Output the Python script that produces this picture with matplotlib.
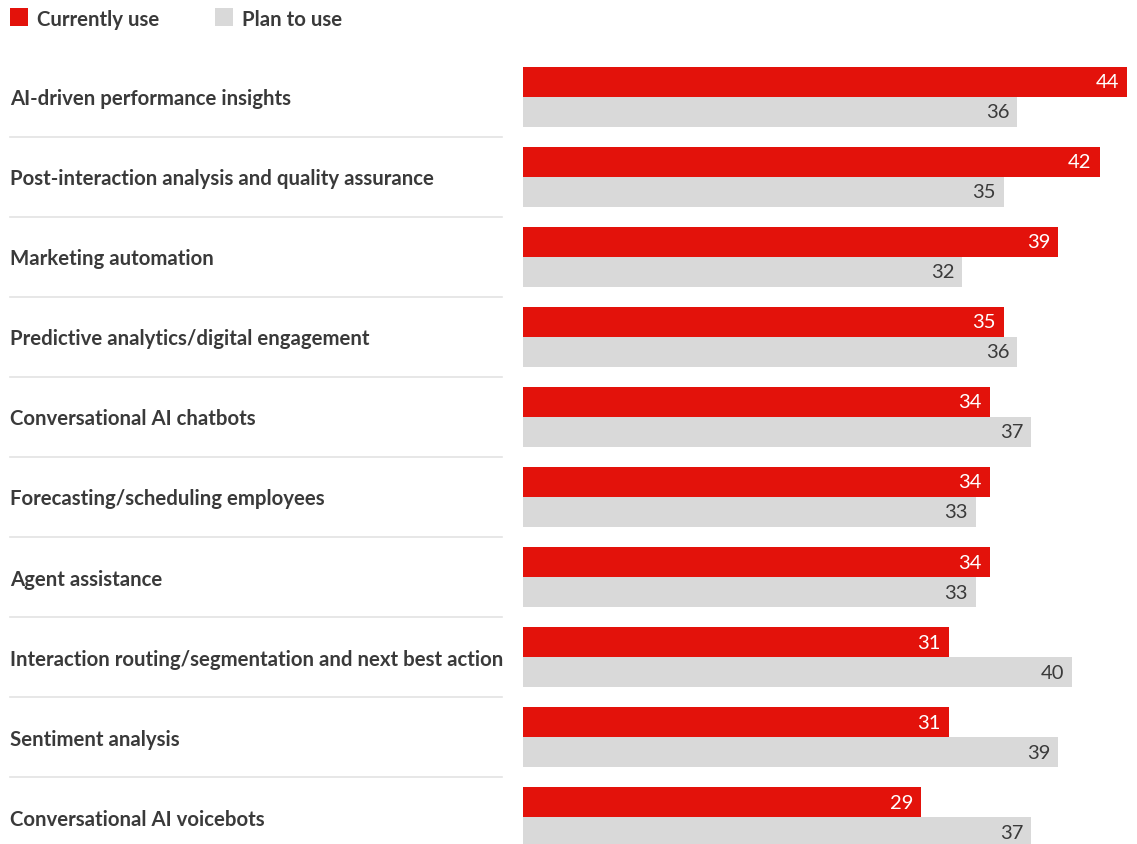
import numpy as np
import matplotlib
matplotlib.use("Agg")
import matplotlib.pyplot as plt
from matplotlib.transforms import blended_transform_factory
from matplotlib.patches import Rectangle

categories = [
    "AI-driven performance insights",
    "Post-interaction analysis and quality assurance",
    "Marketing automation",
    "Predictive analytics/digital engagement",
    "Conversational AI chatbots",
    "Forecasting/scheduling employees",
    "Agent assistance",
    "Interaction routing/segmentation and next best action",
    "Sentiment analysis",
    "Conversational AI voicebots",
]
currently_use = [44, 42, 39, 35, 34, 34, 34, 31, 31, 29]
plan_to_use = [36, 35, 32, 36, 37, 33, 33, 40, 39, 37]
series_names = ["Currently use", "Plan to use"]

red = "#e3120b"
grey = "#d9d9d9"
text_col = "#3a3a3a"
sep_col = "#e3e3e3"

plt.rcParams['font.family'] = ['Lato', 'DejaVu Sans']

W, H = 1137, 845
fig = plt.figure(figsize=(W / 100, H / 100), dpi=100)

px_per_unit = 13.73
row_step = 80.1
first_center = 97.5
x0 = 523

ax = fig.add_axes([x0 / W, 0, (W - x0) / W, 1])
ax.set_xlim(0, (W - x0) / px_per_unit)
ax.set_ylim((H - first_center) / row_step, -first_center / row_step)
ax.axis("off")

y = np.arange(len(categories))
bh = 30 / row_step
ax.barh(y - bh / 2, currently_use, height=bh, color=red, linewidth=0)
ax.barh(y + bh / 2, plan_to_use, height=bh, color=grey, linewidth=0)

# value labels inside bar ends
pad = 8 / px_per_unit
for i in range(len(categories)):
    ax.text(currently_use[i] - pad, y[i] - bh / 2, str(currently_use[i]),
            ha="right", va="center", color="white", fontsize=14.5)
    ax.text(plan_to_use[i] - pad, y[i] + bh / 2, str(plan_to_use[i]),
            ha="right", va="center", color=text_col, fontsize=14.5)

# category labels and separators
trans = blended_transform_factory(fig.transFigure, ax.transData)
for i, cat in enumerate(categories):
    ax.text(10 / W, y[i] + 1.5 / row_step, cat, transform=trans, ha="left", va="center",
            color=text_col, fontsize=14.7, fontweight="bold", clip_on=False)
    if i > 0:
        ax.plot([10 / W, 502 / W], [i - 0.5, i - 0.5], transform=trans,
                color=sep_col, linewidth=1.2, clip_on=False)

# legend
for (lx, col, name) in [(10, red, series_names[0]), (215, grey, series_names[1])]:
    fig.patches.append(Rectangle((lx / W, 1 - 27 / H), 18 / W, 18 / H,
                                 transform=fig.transFigure, color=col, linewidth=0))
    fig.text((lx + 27) / W, 1 - 19.5 / H, name, ha="left", va="center",
             color=text_col, fontsize=14.7, fontweight="bold")

fig.savefig("out.png", dpi=100)
